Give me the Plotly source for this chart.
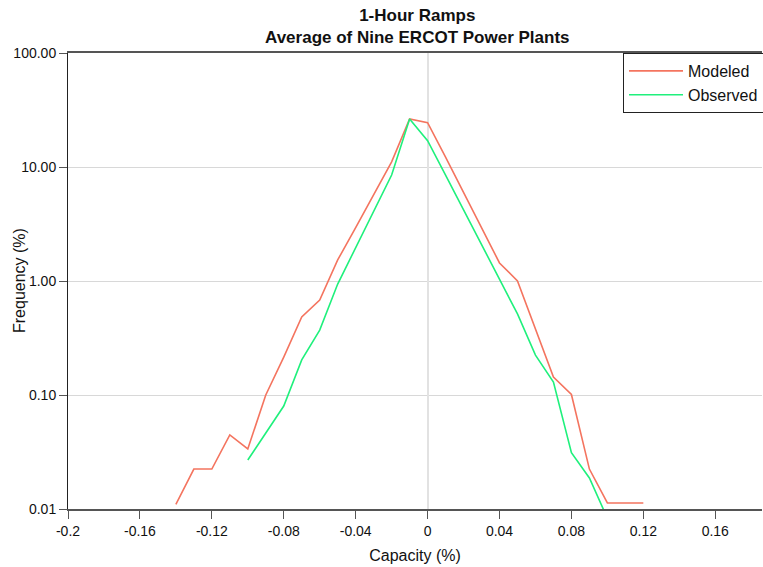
import plotly.graph_objects as go

# Data
modeled_x = [-0.14, -0.13, -0.12, -0.11, -0.10, -0.09, -0.08, -0.07, -0.06, -0.05,
             -0.04, -0.03, -0.02, -0.01, 0.00, 0.01, 0.02, 0.03, 0.04, 0.05,
             0.06, 0.07, 0.08, 0.09, 0.10, 0.11, 0.12]
modeled_y = [0.011, 0.0224, 0.0224, 0.0446, 0.0336, 0.100, 0.215, 0.483, 0.68, 1.53,
             2.94, 5.68, 11.1, 26.4, 24.5, 12.2, 5.97, 2.93, 1.44, 1.00,
             0.379, 0.144, 0.101, 0.0224, 0.0113, 0.0113, 0.0113]

observed_x = [-0.10, -0.09, -0.08, -0.07, -0.06, -0.05, -0.04, -0.03, -0.02, -0.01,
              0.00, 0.01, 0.02, 0.03, 0.04, 0.05, 0.06, 0.07, 0.08, 0.09, 0.10]
observed_y = [0.0269, 0.047, 0.080, 0.203, 0.371, 0.94, 1.96, 4.11, 8.5, 26.4,
              17.0, 8.5, 4.2, 2.07, 1.02, 0.514, 0.224, 0.13, 0.0312, 0.0187, 0.0083]

x_tickvals = [-0.2, -0.16, -0.12, -0.08, -0.04, 0, 0.04, 0.08, 0.12, 0.16]
x_ticktext = ["-0.2", "-0.16", "-0.12", "-0.08", "-0.04", "0", "0.04", "0.08", "0.12", "0.16"]
y_tickvals = [0.01, 0.1, 1, 10, 100]
y_ticktext = ["0.01", "0.10", "1.00", "10.00", "100.00"]

title_lines = ["1-Hour Ramps", "Average of Nine ERCOT Power Plants"]

FONT = "Liberation Sans, Arial, sans-serif"

W, H = 763, 567
ML, MR, MT, MB = 68, 1, 53, 58
PW, PH = W - ML - MR, H - MT - MB

fig = go.Figure()
fig.add_trace(go.Scatter(x=modeled_x, y=modeled_y, mode="lines", name="Modeled",
                         line=dict(color="#F4745F", width=1.6)))
fig.add_trace(go.Scatter(x=observed_x, y=observed_y, mode="lines", name="Observed",
                         line=dict(color="#1FF07C", width=1.6)))

fig.update_layout(
    width=W, height=H,
    paper_bgcolor="white", plot_bgcolor="white",
    margin=dict(l=ML, r=MR, t=MT, b=MB, autoexpand=False),
    font=dict(family=FONT, size=13, color="#111"),
    showlegend=True,
    legend=dict(x=(623 - ML) / PW, xanchor="left", y=1, yanchor="top",
                bordercolor="#222", borderwidth=1, bgcolor="white",
                font=dict(family=FONT, size=16, color="#111"),
                tracegroupgap=0, itemwidth=54),
    xaxis=dict(range=[-0.2, 0.186], tickvals=x_tickvals, ticktext=x_ticktext,
               showgrid=False, zeroline=True, zerolinecolor="#e2e2e2", zerolinewidth=1.5,
               showline=True, linecolor="#555", linewidth=2, mirror=True,
               ticks="outside", ticklen=8, tickcolor="#555",
               tickfont=dict(size=14),
               title=dict(text="Capacity (%)", font=dict(family=FONT, size=16), standoff=12)),
    yaxis=dict(type="log", range=[-2, 2], tickvals=y_tickvals, ticktext=y_ticktext,
               showgrid=True, gridcolor="#d8d8d8", gridwidth=1, zeroline=False,
               showline=True, linecolor="#222", linewidth=1,
               ticks="outside", ticklen=8, tickcolor="#555",
               tickfont=dict(size=14)),
    annotations=[
        dict(text="<b>" + "<br>".join(title_lines) + "</b>", showarrow=False,
             xref="paper", yref="paper", x=(417 - ML) / PW, y=1 + (MT - 26.5) / PH,
             xanchor="center", yanchor="middle", align="center",
             font=dict(family=FONT, size=17, color="#111")),
        dict(text="Frequency (%)", textangle=-90, showarrow=False,
             xref="paper", yref="paper", x=(19 - ML) / PW, y=0.5,
             xanchor="center", yanchor="middle",
             font=dict(family=FONT, size=16, color="#111")),
    ],
)

fig.write_html("out.html", config={"displayModeBar": False},
               post_script="document.body.style.margin='0';")
